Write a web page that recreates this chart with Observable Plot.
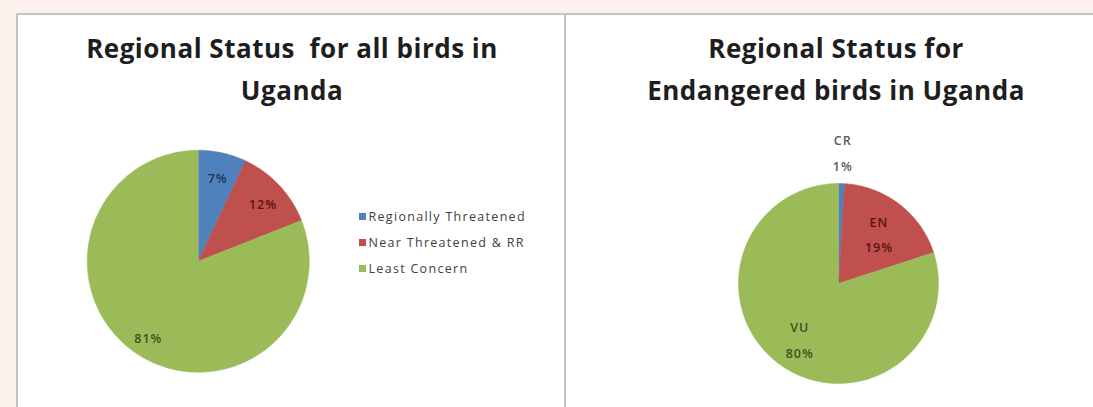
<!DOCTYPE html>
<html>
<head>
<meta charset="utf-8">
<script src="https://cdn.jsdelivr.net/npm/d3@7"></script>
<script src="https://cdn.jsdelivr.net/npm/@observablehq/plot@0.6"></script>
<style>
  html, body { margin: 0; padding: 0; }
  body { width: 1093px; height: 407px; background: #fdf1ee; position: relative; overflow: hidden; font-family: "Open Sans", Lato, sans-serif; }
  #panel { position: absolute; left: 16px; top: 13px; width: 1077px; height: 394px; background: #fff; border-left: 2px solid #c4c4c4; border-top: 2px solid #c4c4c4; box-sizing: border-box; }
  #divider { position: absolute; left: 564px; top: 13px; width: 2px; height: 394px; background: #c4c4c4; }
  .title { position: absolute; text-align: center; font-weight: 700; font-size: 26px; line-height: 42px; color: #1e1e1e; white-space: nowrap; letter-spacing: 0.5px; }
  .abs { position: absolute; }
</style>
</head>
<body>
<div id="panel"></div>
<div id="divider"></div>
<div class="title" style="left:70px; top:27px; width:444px;">Regional Status&nbsp; for all birds in<br>Uganda</div>
<div class="title" style="left:616px; top:27px; width:440px;">Regional Status for<br>Endangered birds in Uganda</div>
<div id="pie1" class="abs"></div>
<div id="legend1" class="abs"></div>
<div id="pie2" class="abs"></div>
<script>
// ---- data ----
const allCategories = ["Regionally Threatened", "Near Threatened & RR", "Least Concern"];
const allValues = [7, 12, 81];
const endCategories = ["CR", "EN", "VU"];
const endValues = [1, 19, 80];
const sliceColors = ["#4f81bd", "#c0504d", "#9bbb59"];
const labelColorsAll = ["#1d3557", "#5a1414", "#3d5220"];
const labelColorsEnd = ["#595959", "#5a1414", "#3d5220"];

// build polygon outlines of pie slices in unit coordinates (clockwise from 12 o'clock)
function slices(categories, values) {
  const arcs = d3.pie().sort(null).value(d => d.value)(categories.map((c, i) => ({c, value: values[i], i})));
  const pts = [];
  arcs.forEach(a => {
    const n = Math.max(2, Math.ceil((a.endAngle - a.startAngle) * 60));
    pts.push({c: a.data.c, x: 0, y: 0});
    for (let k = 0; k <= n; k++) {
      const t = a.startAngle + (a.endAngle - a.startAngle) * k / n;
      pts.push({c: a.data.c, x: Math.sin(t), y: Math.cos(t)});
    }
    pts.push({c: a.data.c, x: 0, y: 0});
  });
  return {arcs, pts};
}

function pieChart(categories, values, k, size, labelR, labelFn, labelColors, outside) {
  const {arcs, pts} = slices(categories, values);
  const labels = arcs.map((a, i) => {
    const m = (a.startAngle + a.endAngle) / 2;
    const r = outside[i] ? outside[i] : labelR;
    return {c: a.data.c, text: labelFn(a.data), x: r * Math.sin(m), y: r * Math.cos(m), color: labelColors[i]};
  });
  return Plot.plot({
    width: size, height: size, margin: 0,
    style: {background: "transparent", overflow: "visible"},
    x: {domain: [-k, k], axis: null},
    y: {domain: [-k, k], axis: null},
    color: {domain: categories, range: sliceColors},
    marks: [
      ...categories.map(c => Plot.line(pts.filter(p => p.c === c), {x: "x", y: "y", fill: sliceColors[categories.indexOf(c)], stroke: sliceColors[categories.indexOf(c)], strokeWidth: 0.5, curve: "linear-closed"})),
      Plot.text(labels, {x: "x", y: "y", text: "text", fill: "color", fontSize: 12.5, fontFamily: "'Open Sans', sans-serif", fontWeight: 600, lineHeight: 2.05})
    ]
  });
}

const k1 = 1.25, R1 = 111;
const s1 = 2 * R1 * k1;
const p1 = pieChart(allCategories, allValues, k1, s1, 0.8, d => d.value + "%", labelColorsAll, {});
const el1 = document.getElementById("pie1");
el1.style.left = (198 - s1 / 2) + "px"; el1.style.top = (261 - s1 / 2) + "px";
el1.appendChild(p1);
p1.querySelectorAll("text").forEach(t => t.style.letterSpacing = "1px");

const k2 = 1.5, R2 = 100;
const s2 = 2 * R2 * k2;
const p2 = pieChart(endCategories, endValues, k2, s2, 0.66, d => d.c + "\n" + d.value + "%", labelColorsEnd, {0: 1.34});
const el2 = document.getElementById("pie2");
el2.style.left = (838 - s2 / 2) + "px"; el2.style.top = (283 - s2 / 2) + "px";
el2.appendChild(p2);
p2.querySelectorAll("text").forEach(t => t.style.letterSpacing = "1px");

// legend for left chart
const leg = Plot.plot({
  width: 200, height: 80, marginTop: 13, marginBottom: 14, marginLeft: 0, marginRight: 0,
  style: {background: "transparent"},
  y: {type: "point", domain: allCategories, axis: null, padding: 0},
  color: {domain: allCategories, range: sliceColors},
  marks: [
    Plot.dot(allCategories, {y: d => d, fill: d => d, symbol: "square", r: 4, frameAnchor: "left", dx: 4}),
    Plot.text(allCategories, {y: d => d, text: d => d, frameAnchor: "left", textAnchor: "start", dx: 10, fontSize: 12.5, fontFamily: "'Open Sans', sans-serif", fill: "#404040"})
  ]
});
leg.querySelectorAll("text").forEach(t => t.style.letterSpacing = "1.3px");
const lg = document.getElementById("legend1");
lg.style.left = "358px"; lg.style.top = "202px";
lg.appendChild(leg);
</script>
</body>
</html>
